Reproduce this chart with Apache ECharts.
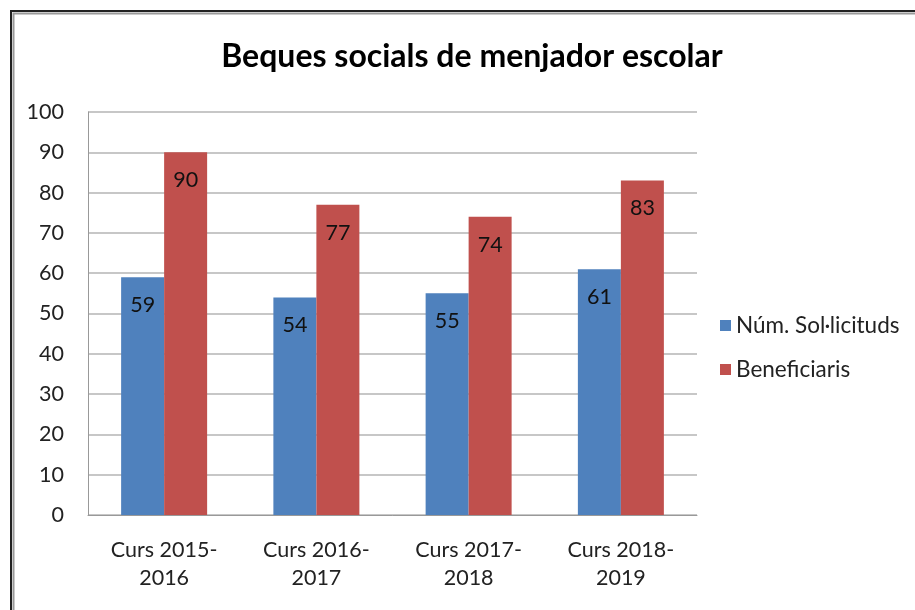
<!DOCTYPE html>
<html>
<head>
<meta charset="utf-8">
<script src="https://cdn.jsdelivr.net/npm/echarts@6/dist/echarts.min.js"></script>
<style>
  html, body { margin: 0; padding: 0; background: #fff; }
  #main { width: 915px; height: 610px; }
</style>
</head>
<body>
<div id="main"></div>
<script>
// dades
var cursos = ['Curs 2015-\n2016', 'Curs 2016-\n2017', 'Curs 2017-\n2018', 'Curs 2018-\n2019'];
var solicituds = [59, 54, 55, 61];
var beneficiaris = [90, 77, 74, 83];
var yTicks = [0, 10, 20, 30, 40, 50, 60, 70, 80, 90, 100];

var font = 'Lato';
var myChart = echarts.init(document.getElementById('main'));

var options = {
  backgroundColor: '#fff',
  animation: false,
  title: {
    text: 'Beques socials de menjador escolar',
    left: 467, top: 36, textAlign: 'center',
    textStyle: { fontFamily: font, fontWeight: 'bold', fontSize: 32, color: '#000' }
  },
  legend: {
    orient: 'vertical',
    left: 715, top: 309,
    itemWidth: 11, itemHeight: 11, itemGap: 21,
    icon: 'rect',
    textStyle: { fontFamily: font, fontSize: 22.5, color: '#222' },
    data: ['Núm. Sol·licituds', 'Beneficiaris']
  },
  grid: { left: 88, right: 218, top: 112, bottom: 95 },
  xAxis: {
    type: 'category',
    data: cursos,
    axisLine: { lineStyle: { color: '#999', width: 1 } },
    axisTick: { show: false },
    axisLabel: { fontFamily: font, fontSize: 21.5, color: '#222', lineHeight: 28, margin: 21 }
  },
  yAxis: {
    type: 'value',
    min: yTicks[0], max: yTicks[yTicks.length - 1], interval: 10,
    axisLine: { show: true, lineStyle: { color: '#999', width: 1 } },
    axisTick: { show: false },
    splitLine: { lineStyle: { color: '#b4b4b4', width: 1.5 } },
    axisLabel: { fontFamily: font, fontSize: 21.5, color: '#222', margin: 24 }
  },
  series: [
    {
      name: 'Núm. Sol·licituds',
      type: 'bar',
      data: solicituds,
      barWidth: 43, barGap: '0%',
      itemStyle: { color: '#4F81BD' },
      label: { show: true, position: 'insideTop', distance: 17, fontFamily: font, fontSize: 21.5, color: '#111' }
    },
    {
      name: 'Beneficiaris',
      type: 'bar',
      data: beneficiaris,
      barWidth: 43,
      itemStyle: { color: '#C0504D' },
      label: { show: true, position: 'insideTop', distance: 17, fontFamily: font, fontSize: 21.5, color: '#111' }
    }
  ],
  graphic: [
    { type: 'polyline', shape: { points: [[11, 610], [11, 11], [915, 11]] }, style: { stroke: '#222', lineWidth: 2, fill: null } },
    { type: 'polyline', shape: { points: [[13.5, 610], [13.5, 13.5], [915, 13.5]] }, style: { stroke: '#999', lineWidth: 2, fill: null } }
  ]
};
myChart.setOption(options, true);
</script>
</body>
</html>
